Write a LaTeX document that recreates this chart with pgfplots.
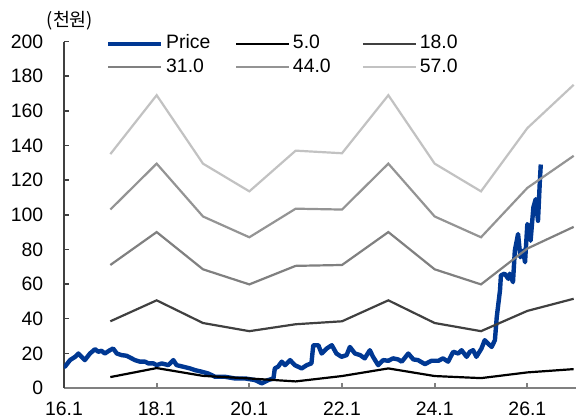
\documentclass[border=0pt]{standalone}
\usepackage{fontspec}
\setmainfont{Liberation Sans}
\newfontfamily\kr{Noto Sans CJK KR}
\usepackage{pgfplots}
\usepackage{pgfplotstable}
\pgfplotsset{compat=1.18}

\definecolor{pricecol}{RGB}{0,56,147}
\definecolor{b18}{RGB}{64,64,64}
\definecolor{b31}{RGB}{128,128,128}
\definecolor{b44}{RGB}{148,148,148}
\definecolor{b57}{RGB}{194,194,194}
\definecolor{axcol}{RGB}{128,128,128}

% price (thousand won)
\pgfplotstableread{
yr p
2016.00 13.0
2016.02 12.3
2016.13 16.1
2016.24 18.0
2016.31 19.9
2016.38 18.0
2016.45 16.1
2016.56 19.9
2016.67 22.4
2016.74 20.9
2016.81 21.5
2016.88 19.9
2016.99 21.8
2017.06 22.8
2017.14 19.9
2017.24 19.0
2017.35 18.6
2017.46 17.1
2017.53 16.1
2017.64 15.2
2017.75 15.2
2017.82 14.2
2017.93 14.2
2018.00 13.2
2018.11 14.2
2018.25 13.2
2018.36 16.1
2018.43 13.2
2018.57 12.3
2018.72 11.3
2018.83 10.3
2018.97 9.4
2019.11 8.4
2019.26 6.5
2019.47 6.5
2019.69 5.5
2019.91 5.5
2020.12 4.6
2020.27 2.7
2020.41 4.6
2020.52 5.5
2020.55 11.3
2020.62 12.3
2020.70 15.2
2020.77 13.2
2020.88 16.1
2020.98 13.2
2021.13 11.3
2021.24 13.2
2021.34 14.2
2021.38 24.7
2021.49 24.7
2021.56 19.9
2021.67 22.8
2021.78 24.7
2021.88 19.9
2021.99 18.0
2022.10 19.0
2022.17 23.7
2022.28 19.9
2022.39 19.0
2022.49 17.1
2022.60 21.8
2022.67 18.0
2022.78 13.2
2022.89 16.1
2023.00 15.7
2023.10 17.1
2023.21 16.5
2023.29 15.2
2023.43 19.9
2023.54 16.5
2023.64 16.1
2023.79 13.8
2023.93 15.7
2024.08 15.7
2024.18 17.1
2024.29 15.2
2024.40 20.9
2024.51 19.9
2024.58 21.8
2024.69 18.0
2024.76 20.9
2024.83 21.8
2024.90 18.0
2025.01 22.8
2025.08 27.6
2025.15 25.7
2025.23 23.7
2025.30 27.6
2025.34 41.0
2025.41 56.4
2025.43 65.0
2025.51 66.0
2025.59 63.0
2025.62 66.0
2025.69 61.1
2025.73 79.3
2025.80 88.9
2025.85 75.5
2025.91 79.3
2025.95 72.6
2026.00 94.6
2026.04 92.7
2026.07 85.0
2026.13 104.2
2026.18 109.0
2026.23 96.5
2026.27 119.5
2026.29 129.0
}\price

% band lines
\pgfplotstableread{
yr b5 b18 b31 b44 b57
2017 6.3 38.5 71.0 103.0 135.0
2018 11.5 50.6 90.0 129.5 169.0
2019 7.0 37.5 68.5 99.0 129.5
2020 5.5 32.8 59.8 87.0 113.5
2021 3.8 36.8 70.5 103.5 137.0
2022 6.9 38.5 71.0 103.0 135.5
2023 11.3 50.6 90.0 129.5 169.0
2024 6.9 37.5 68.5 99.0 129.5
2025 5.7 32.8 59.8 87.0 113.5
2026 9.0 44.5 80.5 115.5 150.0
2027 10.9 51.5 93.0 134.0 175.0
}\bands

\begin{document}
\fontsize{9.7}{11.6}\selectfont
\begin{tikzpicture}
\begin{axis}[
    scale only axis,
    width=256pt, height=173.25pt,
    xmin=2016, xmax=2027.05,
    ymin=0, ymax=200,
    axis lines*=left,
    tick align=inside,
    major tick length=2.5pt,
    xtick={2016,2018,...,2026},
    xticklabels={16.1,18.1,20.1,22.1,24.1,26.1},
    ytick={0,20,...,200},
    /pgf/number format/assume math mode=true,
    tick label style={font=\fontsize{9.7}{11.6}\selectfont, black},
    yticklabel style={xshift=-7pt},
    xticklabel style={yshift=-3.7pt},
    x axis line style={axcol, line width=0.9pt},
    y axis line style={b18, line width=0.8pt},
    xtick style={axcol, line width=0.9pt},
    ytick style={b18, line width=0.8pt},
    legend columns=3,
    legend style={draw=none, fill=none, inner sep=0pt, outer sep=0pt,
        at={(rel axis cs:0,1)}, anchor=north west, xshift=21pt, yshift=4.8pt,
        font=\fontsize{9.7}{11.6}\selectfont,
        nodes={text width=33pt, inner sep=1.4pt, text height=7pt, text depth=2pt, align=left}},
    legend image code/.code={\draw[#1] (0pt,0pt) -- (26.5pt,0pt);},
]
\addplot[pricecol, line width=2.2pt, line join=round] table[x=yr, y=p] {\price};
\addlegendentry{Price}
\addplot[black, line width=1.1pt] table[x=yr, y=b5] {\bands};
\addlegendentry{5.0}
\addplot[b18, line width=1.1pt] table[x=yr, y=b18] {\bands};
\addlegendentry{18.0}
\addplot[b31, line width=1.1pt] table[x=yr, y=b31] {\bands};
\addlegendentry{31.0}
\addplot[b44, line width=1.1pt] table[x=yr, y=b44] {\bands};
\addlegendentry{44.0}
\addplot[b57, line width=1.1pt] table[x=yr, y=b57] {\bands};
\addlegendentry{57.0}
\coordinate (ll) at (rel axis cs:0,0);
\coordinate (ur) at (rel axis cs:1,1);
\coordinate (tl) at (rel axis cs:0,1);
\end{axis}
\node[font=\kr\fontsize{9.2}{11}\selectfont, inner sep=0pt] at ([xshift=3pt, yshift=10.3pt]tl) {(천원)};
\pgfresetboundingbox
\path[use as bounding box] ([xshift=-32pt, yshift=-15.5pt]ll) rectangle ([yshift=20.75pt]ur);
\end{tikzpicture}
\end{document}
